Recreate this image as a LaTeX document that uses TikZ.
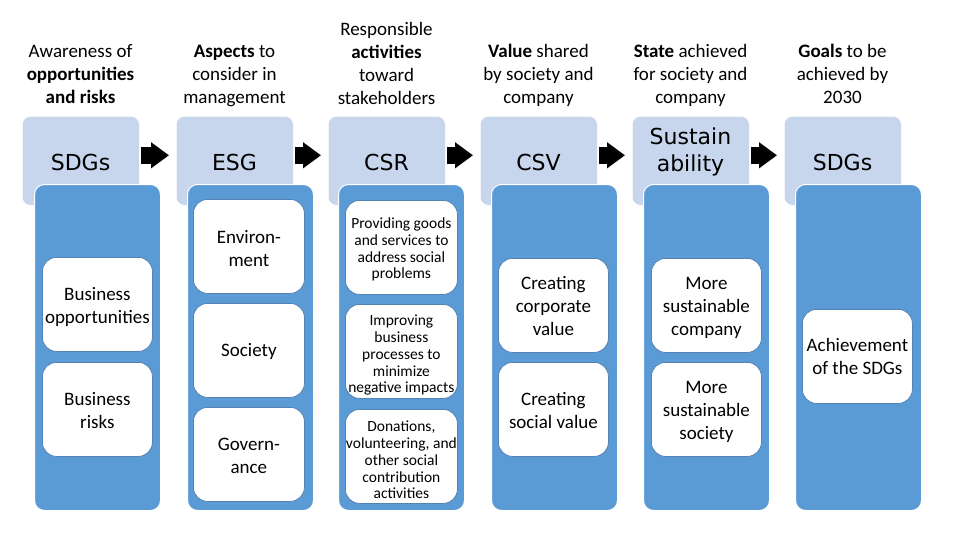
\documentclass[tikz,border=0pt]{standalone}
\usepackage{fontspec}
\setmainfont{Carlito}
\newfontfamily\hdfont{DejaVu Sans}
\usetikzlibrary{arrows.meta}
\definecolor{lightblue}{HTML}{C7D6EC}
\definecolor{midblue}{HTML}{5B9BD5}
\definecolor{edgeblue}{HTML}{5582B5}
\newcommand\boxtext[2]{\raisebox{-#1}[\height][\depth]{\begin{tabular}{@{}c@{}}#2\end{tabular}}}
\tikzset{
 lightbox/.style={fill=lightblue, draw=white, line width=0.6pt, rounded corners=8pt, minimum width=117pt, minimum height=89pt, anchor=north west, inner sep=0pt},
 darkbox/.style={fill=midblue, draw=white, line width=1pt, rounded corners=10pt, minimum width=126pt, minimum height=326pt, anchor=north west, inner sep=0pt},
 whitebox/.style={fill=white, draw=edgeblue, line width=0.8pt, rounded corners=14pt, minimum width=110pt, minimum height=94pt, anchor=north west, inner sep=0pt, font=\fontsize{19}{23}\selectfont},
 csrbox/.style={whitebox, minimum width=112pt, font=\fontsize{15.5}{16.8}\selectfont},
 headtext/.style={anchor=south, align=center, inner sep=0pt, font=\fontsize{19}{23}\selectfont},
 boxlabel/.style={anchor=base, inner sep=0pt, font=\hdfont\fontsize{22}{24}\selectfont},
 flow/.style={line width=17pt, -{Triangle[length=18pt,width=25pt]}},
}
\begin{document}
\begin{tikzpicture}[x=1pt,y=-1pt]
\useasboundingbox (0,0) rectangle (970,546);
\fill[white] (0,0) rectangle (970,546);

% header texts
\node[headtext] (h1) at (80.5,110.5) {Awareness of\\\textbf{opportunities}\\\textbf{and risks}\strut};
\node[headtext] (h2) at (234.5,110.5) {\textbf{Aspects} to\\consider in\\management\strut};
\node[headtext] (h3) at (386.5,112) {Responsible\\\textbf{activities}\\toward\\stakeholders\strut};
\node[headtext] (h4) at (538.5,110.5) {\textbf{Value} shared\\by society and\\company\strut};
\node[headtext] (h5) at (690.5,110.5) {\textbf{State} achieved\\for society and\\company\strut};
\node[headtext] (h6) at (842.5,110.5) {\textbf{Goals} to be\\achieved by\\2030\strut};

% light boxes
\node[lightbox] (lb1) at (22,116) {};
\node[lightbox] (lb2) at (176,116) {};
\node[lightbox] (lb3) at (328,116) {};
\node[lightbox] (lb4) at (480,116) {};
\node[lightbox] (lb5) at (632,116) {};
\node[lightbox] (lb6) at (784,116) {};

% labels in light boxes
\node[boxlabel] (t1) at (80.5,170) {SDGs};
\node[boxlabel] (t2) at (234.5,170) {ESG};
\node[boxlabel] (t3) at (386.5,170) {CSR};
\node[boxlabel] (t4) at (538.5,170) {CSV};
\node[boxlabel] (t5a) at (690.5,144) {Sustain};
\node[boxlabel] (t5b) at (690.5,171) {ability};
\node[boxlabel] (t6) at (842.5,170) {SDGs};

% arrows
\foreach \a/\b in {lb1/lb2,lb2/lb3,lb3/lb4,lb4/lb5,lb5/lb6}
  \draw[flow] ([xshift=1pt,yshift=5.5pt]\a.east) -- ([xshift=-7pt,yshift=5.5pt]\b.west);

% dark boxes
\node[darkbox] (db1) at (34,184) {};
\node[darkbox] (db2) at (187,184) {};
\node[darkbox] (db3) at (338,184) {};
\node[darkbox] (db4) at (491,184) {};
\node[darkbox] (db5) at (643,184) {};
\node[darkbox] (db6) at (795,184) {};

% column 1
\node[whitebox] (w11) at (42,257) {\boxtext{3pt}{Business\\opportunities}};
\node[whitebox] (w12) at (42,362) {\boxtext{3pt}{Business\\risks}};
% column 2
\node[whitebox, minimum width=111pt] (w21) at (193,199) {\boxtext{4pt}{Environ-\\ment}};
\node[whitebox, minimum width=111pt] (w22) at (193,303) {\boxtext{1pt}{Society}};
\node[whitebox, minimum width=111pt] (w23) at (193,407) {\boxtext{3pt}{Govern-\\ance}};
% column 3
\node[csrbox] (w31) at (345,200) {\boxtext{3pt}{Providing goods\\and services to\\address social\\problems}};
\node[csrbox] (w32) at (345,304) {\boxtext{4.5pt}{Improving\\business\\processes to\\minimize\\negative impacts}};
\node[csrbox] (w33) at (345,409) {\boxtext{5.5pt}{Donations,\\volunteering, and\\other social\\contribution\\activities}};
% column 4
\node[whitebox] (w41) at (498,258) {\boxtext{2.5pt}{Creating\\corporate\\value}};
\node[whitebox] (w42) at (498,362) {\boxtext{2.5pt}{Creating\\social value}};
% column 5
\node[whitebox] (w51) at (651,258) {\boxtext{2.5pt}{More\\sustainable\\company}};
\node[whitebox] (w52) at (651,362) {\boxtext{2.5pt}{More\\sustainable\\society}};
% column 6
\node[whitebox] (w61) at (802,309) {\boxtext{2pt}{Achievement\\of the SDGs}};
\end{tikzpicture}
\end{document}
